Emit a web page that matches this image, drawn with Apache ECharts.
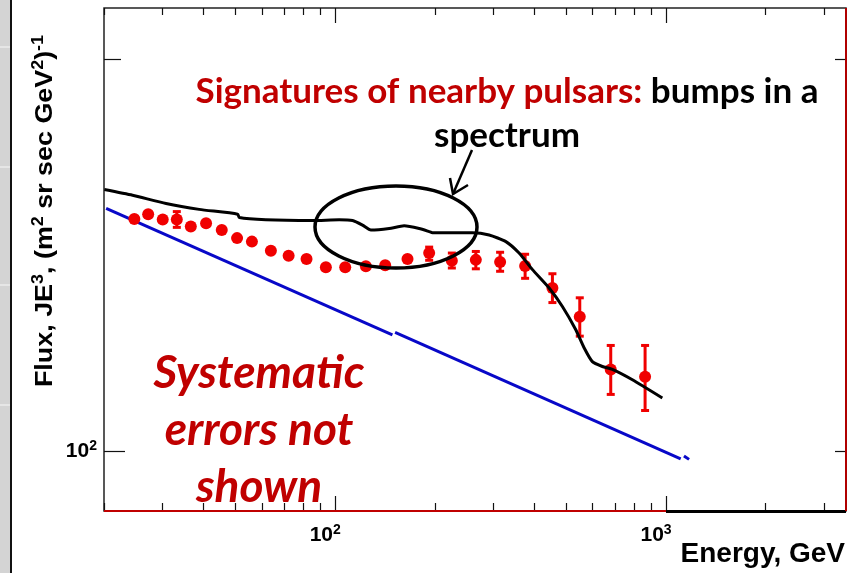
<!DOCTYPE html>
<html>
<head>
<meta charset="utf-8">
<script src="https://cdn.jsdelivr.net/npm/echarts@6/dist/echarts.min.js"></script>
<style>
  html, body { margin: 0; padding: 0; background: #ffffff; }
  #chart { width: 861px; height: 573px; }
</style>
</head>
<body>
<div id="chart"></div>
<script>
// Measured electron spectrum (E^3-weighted flux) with statistical error bars
const energy = [24.7, 27.2, 30.1, 33.2, 36.6, 40.7, 45.4, 50.5, 56.0, 63.9, 72.3, 81.9, 93.7,
                107.2, 123.8, 141.6, 165.4, 192.3, 225.2, 266.1, 315.1, 375.0, 453.5, 548.6, 680.6, 864.4];
const flux = [150.8, 152.1, 150.7, 150.7, 148.8, 149.7, 147.9, 145.8, 144.9, 142.6, 141.3, 140.5, 138.5,
              138.5, 138.7, 139.0, 140.5, 142.0, 140.1, 140.3, 139.8, 138.8, 133.5, 126.9, 115.6, 114.1];
const fluxLow = [null, null, null, 148.6, null, null, null, null, null, null, null, null, null,
                 null, null, null, null, 140.2, 138.3, 138.1, 137.5, 135.8, 130.1, 122.6, 110.6, 107.5];
const fluxHigh = [null, null, null, 152.8, null, null, null, null, null, null, null, null, null,
                  null, null, null, null, 143.5, 142.0, 142.4, 142.2, 141.7, 136.9, 131.2, 120.6, 120.6];

// Model with nearby-pulsar contribution (black curve)
const modelEnergy = [20.05, 24.4, 30.8, 38.8, 50.7, 51.3, 61.7, 85.4, 102.8, 112.8, 120.9, 128.2, 145.6,
                     161.6, 179.4, 192.3, 196.8, 259.9, 291.9, 328.0, 359.6, 394.7, 443.2, 486.1, 533.6,
                     565.3, 598.8, 642.0, 688.4, 791.3, 974.6];
const modelFlux = [158.9, 157.3, 155.0, 153.4, 152.1, 151.2, 150.6, 150.4, 150.6, 150.4, 149.2, 147.9, 148.3,
                   149.0, 148.3, 147.5, 147.2, 147.2, 146.6, 144.9, 142.0, 137.9, 133.5, 129.2, 124.0,
                   120.1, 117.2, 116.2, 115.6, 113.5, 109.9];

// Background power law (blue line), drawn in pieces; null separates pieces
const bgEnergy = [20.3, 148.9, null, 151.7, 1107.5, null, 1133, 1174];
const bgFlux = [153.7, 122.9, null, 123.4, 98.7, null, 99.2, 98.6];

// Axis ticks
const xMinorTicks = [20, 30, 40, 50, 60, 70, 80, 90, 200, 300, 400, 500, 600, 700, 800, 900, 2000, 3000];
const xMajorTicks = [100, 1000];
const yMinorTicks = [200];
const yMajorTicks = [100];

const RED_TEXT = '#c00000';

const chart = echarts.init(document.getElementById('chart'), null, { renderer: 'canvas' });

function powLabel(v) {
  const e = Math.round(Math.log10(v));
  return '{b|10}{s|' + e + '}';
}
const powRich = {
  b: { fontFamily: 'Liberation Sans', fontWeight: 'bold', fontSize: 21, color: '#000', lineHeight: 25 },
  s: { fontFamily: 'Liberation Sans', fontWeight: 'bold', fontSize: 14, color: '#000', lineHeight: 14, verticalAlign: 'top' }
};
const labelBase = {
  show: true, formatter: powLabel, rich: powRich,
  fontFamily: 'Liberation Sans', fontWeight: 'bold', fontSize: 21, color: '#000'
};

function xAxisDef(pos, ticks, len, labels) {
  return {
    type: 'log', logBase: 10, min: 20, max: 3500, position: pos,
    axisLine: { show: false }, splitLine: { show: false },
    axisTick: { show: true, inside: true, length: len, customValues: ticks, lineStyle: { color: '#111', width: 1.2 } },
    axisLabel: labels ? Object.assign({}, labelBase, { customValues: xMajorTicks, margin: 12, padding: [0, 20, 0, 0] }) : { show: false }
  };
}
function yAxisDef(pos, ticks, len, labels) {
  return {
    type: 'log', logBase: 10, min: 90, max: 219, position: pos,
    axisLine: { show: false }, splitLine: { show: false },
    axisTick: { show: true, inside: true, length: len, customValues: ticks, lineStyle: { color: '#111', width: 1.2 } },
    axisLabel: labels ? Object.assign({}, labelBase, { customValues: yMajorTicks, margin: 7 }) : { show: false }
  };
}

// split blue line into pieces
const bgPieces = [];
let cur = [];
bgEnergy.forEach((e, i) => {
  if (e === null) { if (cur.length) bgPieces.push(cur); cur = []; }
  else cur.push([e, bgFlux[i]]);
});
if (cur.length) bgPieces.push(cur);

const errData = [];
energy.forEach((e, i) => { if (fluxLow[i] !== null) errData.push([e, fluxLow[i], fluxHigh[i]]); });

const series = [];
bgPieces.forEach(p => series.push({
  type: 'line', xAxisIndex: 0, yAxisIndex: 0, data: p, symbol: 'none',
  lineStyle: { color: '#0808c8', width: 3 }, silent: true, z: 2
}));
series.push({
  type: 'line', xAxisIndex: 0, yAxisIndex: 0,
  data: modelEnergy.map((e, i) => [e, modelFlux[i]]), symbol: 'none', smooth: 0.2,
  lineStyle: { color: '#000', width: 3 }, silent: true, z: 4
});
series.push({
  type: 'custom', xAxisIndex: 0, yAxisIndex: 0, data: errData, z: 3,
  renderItem: function (params, api) {
    const lo = api.coord([api.value(0), api.value(1)]);
    const hi = api.coord([api.value(0), api.value(2)]);
    const w = 4;
    const st = { stroke: '#f00000', lineWidth: 3 };
    return {
      type: 'group', children: [
        { type: 'line', shape: { x1: lo[0], y1: lo[1], x2: hi[0], y2: hi[1] }, style: st },
        { type: 'line', shape: { x1: lo[0] - w, y1: lo[1], x2: lo[0] + w, y2: lo[1] }, style: st },
        { type: 'line', shape: { x1: hi[0] - w, y1: hi[1], x2: hi[0] + w, y2: hi[1] }, style: st }
      ]
    };
  }
});
series.push({
  type: 'scatter', xAxisIndex: 0, yAxisIndex: 0,
  data: energy.map((e, i) => [e, flux[i]]), symbol: 'circle', symbolSize: 12,
  itemStyle: { color: '#f00000', opacity: 1 }, z: 3
});

const option = {
  animation: false,
  backgroundColor: '#ffffff',
  grid: { left: 104, top: 8, right: 15, bottom: 62, show: true, borderColor: '#222', borderWidth: 1.5, backgroundColor: 'transparent' },
  xAxis: [
    xAxisDef('bottom', xMinorTicks, 8, true),
    xAxisDef('bottom', xMajorTicks, 15, false),
    xAxisDef('top', xMinorTicks, 7, false),
    xAxisDef('top', xMajorTicks, 15, false)
  ],
  yAxis: [
    yAxisDef('left', yMinorTicks, 17, false),
    yAxisDef('left', yMajorTicks, 21, true),
    yAxisDef('right', yMinorTicks, 11, false),
    yAxisDef('right', yMajorTicks, 11, false)
  ],
  series: series,
  graphic: [
    // side strip
    { type: 'rect', shape: { x: 0, y: 0, width: 10, height: 573 }, style: { fill: '#d4d4d4' }, silent: true },
    { type: 'line', shape: { x1: 0, y1: 47, x2: 10, y2: 47 }, style: { stroke: '#ececec', lineWidth: 1.5 } },
    { type: 'line', shape: { x1: 0, y1: 167, x2: 10, y2: 167 }, style: { stroke: '#ececec', lineWidth: 1.5 } },
    { type: 'line', shape: { x1: 0, y1: 285, x2: 10, y2: 285 }, style: { stroke: '#ececec', lineWidth: 1.5 } },
    { type: 'line', shape: { x1: 0, y1: 405, x2: 10, y2: 405 }, style: { stroke: '#ececec', lineWidth: 1.5 } },
    { type: 'line', shape: { x1: 11, y1: 0, x2: 11, y2: 573 }, style: { stroke: '#111', lineWidth: 2 } },
    // frame accents
    { type: 'line', shape: { x1: 104, y1: 511, x2: 666, y2: 511 }, style: { stroke: '#c00000', lineWidth: 2 }, z: 10 },
    { type: 'line', shape: { x1: 666, y1: 511.5, x2: 846, y2: 511.5 }, style: { stroke: '#000', lineWidth: 3 }, z: 10 },
    { type: 'line', shape: { x1: 846, y1: 8, x2: 846, y2: 511 }, style: { stroke: '#b00000', lineWidth: 2 }, z: 10 },
    // y-axis title
    {
      type: 'text', x: 45, y: 211, rotation: Math.PI / 2, scaleX: 1.12, z: 10,
      style: {
        text: '{t|Flux, JE}{s|3}{t|, (m}{s|2}{t| sr sec GeV}{s|2}{t|)}{s|-1}',
        align: 'center', verticalAlign: 'middle',
        rich: {
          t: { fontFamily: 'Liberation Sans', fontWeight: 'bold', fontSize: 24, lineHeight: 28, fill: '#000' },
          s: { fontFamily: 'Liberation Sans', fontWeight: 'bold', fontSize: 16, lineHeight: 16, verticalAlign: 'top', fill: '#000' }
        }
      }
    },
    // x-axis title
    {
      type: 'text', x: 845, y: 554, z: 10,
      style: { text: 'Energy, GeV', align: 'right', verticalAlign: 'middle',
        font: 'bold 28px "Liberation Sans"', fill: '#000' }
    },
    // headline annotation
    {
      type: 'text', x: 507, y: 92, z: 10,
      style: {
        text: '{r|Signatures of nearby pulsars:}{k| bumps in a}',
        align: 'center', verticalAlign: 'middle',
        rich: {
          r: { fontFamily: 'Lato', fontWeight: 'bold', fontSize: 35, fill: RED_TEXT },
          k: { fontFamily: 'Lato', fontWeight: 'bold', fontSize: 35, fill: '#000' }
        }
      }
    },
    {
      type: 'text', x: 507, y: 136, z: 10,
      style: { text: 'spectrum', align: 'center', verticalAlign: 'middle', font: 'bold 35px Lato', fill: '#000' }
    },
    // ellipse around the bumps
    { type: 'ellipse', shape: { cx: 396, cy: 227, rx: 81, ry: 41 }, style: { fill: 'none', stroke: '#000', lineWidth: 3.5 }, z: 11 },
    // arrow
    { type: 'line', shape: { x1: 472, y1: 150, x2: 453, y2: 194 }, style: { stroke: '#000', lineWidth: 2.5 }, z: 11 },
    { type: 'polyline', shape: { points: [[450, 178], [453, 194], [468, 185]] }, style: { stroke: '#000', lineWidth: 2.5, fill: 'none' }, z: 11 },
    // disclaimer
    {
      type: 'text', x: 259, y: 430, z: 10,
      style: {
        text: 'Systematic\nerrors not\nshown', align: 'center', verticalAlign: 'middle',
        font: 'italic bold 46px Lato', lineHeight: 57, fill: RED_TEXT
      }
    }
  ]
};
chart.setOption(option);
</script>
</body>
</html>
